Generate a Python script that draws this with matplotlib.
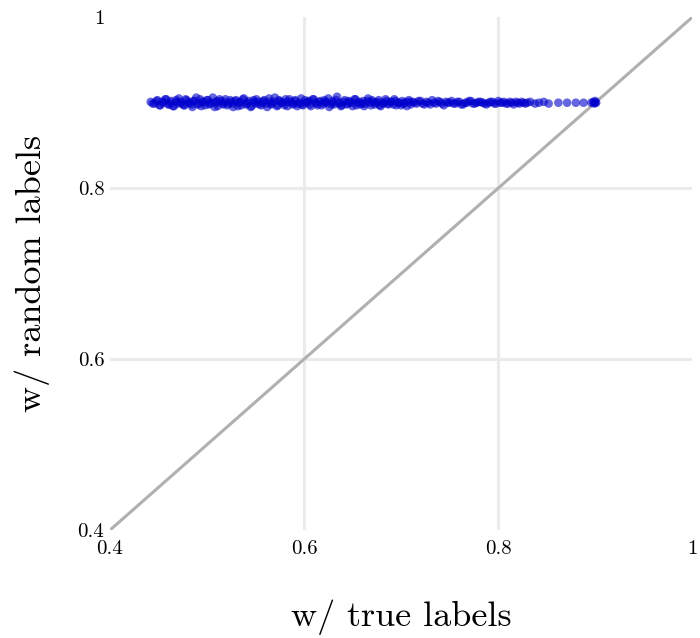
import matplotlib.pyplot as plt

plt.rcParams['font.family'] = ['cmr10', 'DejaVu Serif']
plt.rcParams['axes.formatter.use_mathtext'] = True

# accuracy with true labels (x) vs with random labels (y), two batches of runs
true_acc = [
    0.442, 0.446, 0.449, 0.452, 0.455, 0.458, 0.461, 0.463, 0.466, 0.469,
    0.471, 0.474, 0.477, 0.479, 0.482, 0.485, 0.487, 0.490, 0.493, 0.495,
    0.498, 0.501, 0.503, 0.506, 0.509, 0.511, 0.514, 0.517, 0.519, 0.522,
    0.525, 0.527, 0.530, 0.533, 0.535, 0.538, 0.541, 0.543, 0.546, 0.549,
    0.551, 0.554, 0.557, 0.559, 0.562, 0.565, 0.567, 0.570, 0.573, 0.575,
    0.578, 0.581, 0.583, 0.586, 0.589, 0.591, 0.594, 0.597, 0.599, 0.602,
    0.605, 0.607, 0.610, 0.613, 0.615, 0.618, 0.621, 0.623, 0.626, 0.629,
    0.631, 0.634, 0.637, 0.639, 0.642, 0.645, 0.647, 0.650, 0.653, 0.655,
    0.658, 0.661, 0.663, 0.666, 0.669, 0.671, 0.674, 0.677, 0.679, 0.682,
    0.685, 0.687, 0.690, 0.693, 0.695, 0.698, 0.701, 0.703, 0.706, 0.709,
    0.712, 0.716, 0.720, 0.724, 0.728, 0.732, 0.736, 0.740, 0.744, 0.748,
    0.752, 0.756, 0.760, 0.764, 0.768, 0.772, 0.776, 0.780, 0.784, 0.788,
    0.792, 0.796, 0.800, 0.804, 0.808, 0.812, 0.816, 0.820, 0.824, 0.828,
    0.833, 0.838, 0.842, 0.847, 0.852, 0.862, 0.871, 0.880, 0.888, 0.896,
    0.898, 0.899, 0.900, 0.900, 0.901,
]
random_acc = [
    0.901, 0.899, 0.903, 0.897, 0.900, 0.904, 0.898, 0.902, 0.896, 0.901,
    0.905, 0.899, 0.897, 0.903, 0.900, 0.895, 0.902, 0.898, 0.904, 0.901,
    0.897, 0.903, 0.899, 0.906, 0.900, 0.896, 0.902, 0.898, 0.904, 0.899,
    0.901, 0.895, 0.903, 0.900, 0.897, 0.905, 0.899, 0.902, 0.896, 0.901,
    0.904, 0.898, 0.900, 0.903, 0.895, 0.901, 0.899, 0.906, 0.897, 0.902,
    0.900, 0.904, 0.896, 0.901, 0.898, 0.903, 0.899, 0.905, 0.897, 0.900,
    0.902, 0.896, 0.904, 0.899, 0.901, 0.897, 0.903, 0.900, 0.895, 0.902,
    0.898, 0.907, 0.900, 0.897, 0.903, 0.899, 0.901, 0.896, 0.904, 0.900,
    0.898, 0.902, 0.899, 0.905, 0.897, 0.901, 0.900, 0.903, 0.896, 0.899,
    0.902, 0.898, 0.901, 0.904, 0.897, 0.900, 0.902, 0.899, 0.896, 0.901,
    0.901, 0.899, 0.902, 0.898, 0.900, 0.903, 0.899, 0.901, 0.897, 0.900,
    0.902, 0.899, 0.901, 0.898, 0.900, 0.902, 0.899, 0.901, 0.900, 0.898,
    0.901, 0.899, 0.902, 0.900, 0.899, 0.901, 0.898, 0.900, 0.901, 0.899,
    0.901, 0.899, 0.900, 0.901, 0.899, 0.900, 0.900, 0.900, 0.900, 0.900,
    0.901, 0.899, 0.900, 0.902, 0.900,
]
true_acc_b = [
    0.444, 0.448, 0.451, 0.454, 0.457, 0.460, 0.462, 0.465, 0.468, 0.470,
    0.473, 0.476, 0.478, 0.481, 0.484, 0.486, 0.489, 0.492, 0.494, 0.497,
    0.500, 0.502, 0.505, 0.508, 0.510, 0.513, 0.516, 0.518, 0.521, 0.524,
    0.526, 0.529, 0.532, 0.534, 0.537, 0.540, 0.542, 0.545, 0.548, 0.550,
    0.553, 0.556, 0.558, 0.561, 0.564, 0.566, 0.569, 0.572, 0.574, 0.577,
    0.580, 0.582, 0.585, 0.588, 0.590, 0.593, 0.596, 0.598, 0.601, 0.604,
    0.606, 0.609, 0.612, 0.614, 0.617, 0.620, 0.622, 0.625, 0.628, 0.630,
    0.633, 0.636, 0.638, 0.641, 0.644, 0.646, 0.649, 0.652, 0.654, 0.657,
    0.660, 0.662, 0.665, 0.668, 0.670, 0.673, 0.676, 0.678, 0.681, 0.684,
    0.686, 0.689, 0.692, 0.694, 0.697, 0.700, 0.702, 0.705, 0.708, 0.710,
    0.714, 0.718, 0.722, 0.726, 0.730, 0.734, 0.738, 0.742, 0.746, 0.750,
    0.754, 0.758, 0.762, 0.766, 0.770, 0.774, 0.778, 0.782, 0.786, 0.790,
    0.794, 0.798, 0.802, 0.806, 0.810, 0.814, 0.818, 0.822, 0.826, 0.830,
]
random_acc_b = [
    0.899, 0.902, 0.897, 0.901, 0.904, 0.898, 0.900, 0.896, 0.903, 0.899,
    0.901, 0.897, 0.904, 0.900, 0.898, 0.902, 0.906, 0.899, 0.896, 0.901,
    0.903, 0.898, 0.900, 0.895, 0.902, 0.904, 0.899, 0.901, 0.897, 0.903,
    0.899, 0.902, 0.896, 0.901, 0.904, 0.898, 0.900, 0.895, 0.903, 0.899,
    0.901, 0.897, 0.902, 0.899, 0.905, 0.898, 0.901, 0.896, 0.903, 0.900,
    0.897, 0.901, 0.904, 0.899, 0.902, 0.896, 0.900, 0.898, 0.903, 0.901,
    0.898, 0.904, 0.900, 0.897, 0.902, 0.899, 0.901, 0.905, 0.898, 0.900,
    0.903, 0.899, 0.896, 0.901, 0.898, 0.902, 0.900, 0.904, 0.897, 0.901,
    0.899, 0.896, 0.902, 0.900, 0.903, 0.898, 0.901, 0.897, 0.900, 0.904,
    0.899, 0.901, 0.898, 0.902, 0.900, 0.897, 0.899, 0.901, 0.903, 0.898,
    0.900, 0.902, 0.899, 0.901, 0.898, 0.900, 0.902, 0.899, 0.901, 0.900,
    0.899, 0.901, 0.898, 0.900, 0.902, 0.899, 0.900, 0.901, 0.899, 0.900,
    0.901, 0.899, 0.900, 0.901, 0.899, 0.900, 0.901, 0.899, 0.900, 0.900,
]
ticks = [0.4, 0.6, 0.8, 1.0]
tick_labels = ['0.4', '0.6', '0.8', '1']
grid_at = [0.6, 0.8]

fig = plt.figure(figsize=(7, 6.38), dpi=100)
ax = fig.add_axes([0.157, 0.169, 0.832, 0.804])

# light grid, only inside the panel
for g in grid_at:
    ax.axvline(g, color='#ebebeb', lw=2.2, zorder=0)
    ax.axhline(g, color='#ebebeb', lw=2.2, zorder=0)

ax.plot([0.4, 1], [0.4, 1], color='#b0b0b0', lw=2.2, zorder=2)
for xs, ys in [(true_acc, random_acc), (true_acc_b, random_acc_b)]:
    ax.scatter(xs, ys, s=38, color='#0000cd', alpha=0.6,
               edgecolors='none', zorder=3)

ax.set_xlim(0.4, 1)
ax.set_ylim(0.4, 1)
ax.set_xticks(ticks, tick_labels)
ax.set_yticks(ticks, tick_labels)
for s in ax.spines.values():
    s.set_visible(False)
ax.tick_params(length=0, labelsize=15)
ax.tick_params(axis='x', pad=7)
ax.tick_params(axis='y', pad=4)

ax.set_xlabel('w/ true labels', fontsize=26, labelpad=30)
ax.set_ylabel('w/ random labels', fontsize=26, labelpad=20)

fig.savefig('out.png')
